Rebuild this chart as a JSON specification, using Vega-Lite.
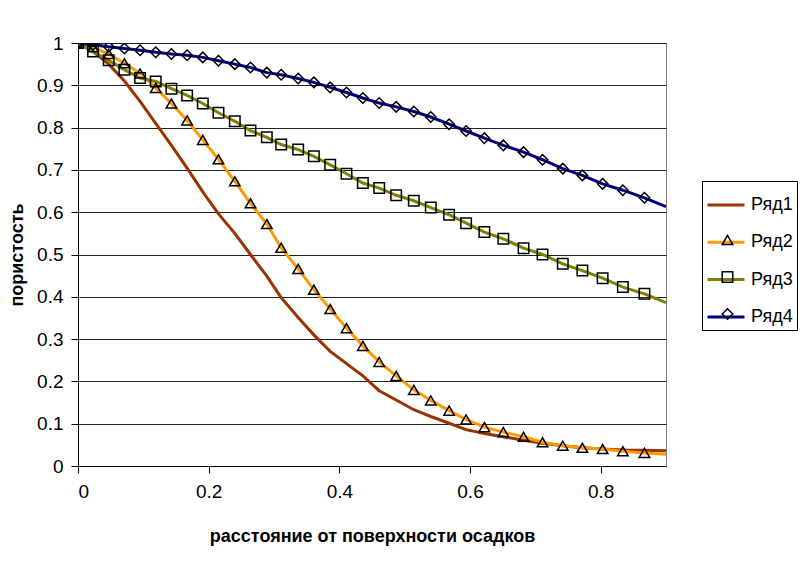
{
  "$schema": "https://vega.github.io/schema/vega-lite/v6.json",
  "autosize": "none",
  "width": 588,
  "height": 423,
  "padding": {"left": 78, "top": 43, "right": 141, "bottom": 106},
  "background": "white",
  "config": {
    "font": "Liberation Sans",
    "view": {"stroke": "#808080", "strokeWidth": 1}
  },
  "datasets": {
    "pts": [
      {"s":"Ряд1","x":0,"v":1.0},{"s":"Ряд1","x":0.023,"v":0.98},{"s":"Ряд1","x":0.047,"v":0.95},{"s":"Ряд1","x":0.071,"v":0.91},{"s":"Ряд1","x":0.095,"v":0.862},{"s":"Ряд1","x":0.119,"v":0.81},{"s":"Ряд1","x":0.143,"v":0.758},{"s":"Ряд1","x":0.167,"v":0.704},{"s":"Ряд1","x":0.191,"v":0.648},{"s":"Ряд1","x":0.215,"v":0.596},{"s":"Ряд1","x":0.24,"v":0.55},{"s":"Ряд1","x":0.264,"v":0.5},{"s":"Ряд1","x":0.289,"v":0.449},{"s":"Ряд1","x":0.311,"v":0.398},{"s":"Ряд1","x":0.337,"v":0.351},{"s":"Ряд1","x":0.361,"v":0.31},{"s":"Ряд1","x":0.386,"v":0.271},{"s":"Ряд1","x":0.411,"v":0.242},{"s":"Ряд1","x":0.436,"v":0.213},{"s":"Ряд1","x":0.461,"v":0.178},{"s":"Ряд1","x":0.487,"v":0.156},{"s":"Ряд1","x":0.514,"v":0.133},{"s":"Ряд1","x":0.54,"v":0.117},{"s":"Ряд1","x":0.568,"v":0.101},{"s":"Ряд1","x":0.594,"v":0.086},{"s":"Ряд1","x":0.622,"v":0.077},{"s":"Ряд1","x":0.651,"v":0.069},{"s":"Ряд1","x":0.682,"v":0.061},{"s":"Ряд1","x":0.711,"v":0.054},{"s":"Ряд1","x":0.742,"v":0.048},{"s":"Ряд1","x":0.772,"v":0.043},{"s":"Ряд1","x":0.803,"v":0.04},{"s":"Ряд1","x":0.834,"v":0.038},{"s":"Ряд1","x":0.867,"v":0.037},{"s":"Ряд1","x":0.9,"v":0.036},
      {"s":"Ряд2","x":0,"v":1.0},{"s":"Ряд2","x":0.023,"v":0.99},{"s":"Ряд2","x":0.047,"v":0.974},{"s":"Ряд2","x":0.071,"v":0.952},{"s":"Ряд2","x":0.095,"v":0.928},{"s":"Ряд2","x":0.119,"v":0.894},{"s":"Ряд2","x":0.143,"v":0.857},{"s":"Ряд2","x":0.167,"v":0.817},{"s":"Ряд2","x":0.191,"v":0.771},{"s":"Ряд2","x":0.215,"v":0.725},{"s":"Ряд2","x":0.24,"v":0.673},{"s":"Ряд2","x":0.264,"v":0.621},{"s":"Ряд2","x":0.289,"v":0.572},{"s":"Ряд2","x":0.311,"v":0.516},{"s":"Ряд2","x":0.337,"v":0.466},{"s":"Ряд2","x":0.361,"v":0.417},{"s":"Ряд2","x":0.386,"v":0.371},{"s":"Ряд2","x":0.411,"v":0.326},{"s":"Ряд2","x":0.436,"v":0.284},{"s":"Ряд2","x":0.461,"v":0.246},{"s":"Ряд2","x":0.487,"v":0.213},{"s":"Ряд2","x":0.514,"v":0.18},{"s":"Ряд2","x":0.54,"v":0.155},{"s":"Ряд2","x":0.568,"v":0.131},{"s":"Ряд2","x":0.594,"v":0.11},{"s":"Ряд2","x":0.622,"v":0.092},{"s":"Ряд2","x":0.651,"v":0.08},{"s":"Ряд2","x":0.682,"v":0.069},{"s":"Ряд2","x":0.711,"v":0.056},{"s":"Ряд2","x":0.742,"v":0.048},{"s":"Ряд2","x":0.772,"v":0.043},{"s":"Ряд2","x":0.803,"v":0.04},{"s":"Ряд2","x":0.834,"v":0.035},{"s":"Ряд2","x":0.867,"v":0.031},{"s":"Ряд2","x":0.9,"v":0.028},
      {"s":"Ряд3","x":0,"v":1.0},{"s":"Ряд3","x":0.023,"v":0.98},{"s":"Ряд3","x":0.047,"v":0.959},{"s":"Ряд3","x":0.071,"v":0.937},{"s":"Ряд3","x":0.095,"v":0.917},{"s":"Ряд3","x":0.119,"v":0.909},{"s":"Ряд3","x":0.143,"v":0.892},{"s":"Ряд3","x":0.167,"v":0.876},{"s":"Ряд3","x":0.191,"v":0.857},{"s":"Ряд3","x":0.215,"v":0.835},{"s":"Ряд3","x":0.24,"v":0.815},{"s":"Ряд3","x":0.264,"v":0.793},{"s":"Ряд3","x":0.289,"v":0.777},{"s":"Ряд3","x":0.311,"v":0.76},{"s":"Ряд3","x":0.337,"v":0.748},{"s":"Ряд3","x":0.361,"v":0.732},{"s":"Ряд3","x":0.386,"v":0.712},{"s":"Ряд3","x":0.411,"v":0.691},{"s":"Ряд3","x":0.436,"v":0.669},{"s":"Ряд3","x":0.461,"v":0.657},{"s":"Ряд3","x":0.487,"v":0.64},{"s":"Ряд3","x":0.514,"v":0.627},{"s":"Ряд3","x":0.54,"v":0.611},{"s":"Ряд3","x":0.568,"v":0.594},{"s":"Ряд3","x":0.594,"v":0.574},{"s":"Ряд3","x":0.622,"v":0.553},{"s":"Ряд3","x":0.651,"v":0.537},{"s":"Ряд3","x":0.682,"v":0.515},{"s":"Ряд3","x":0.711,"v":0.5},{"s":"Ряд3","x":0.742,"v":0.478},{"s":"Ряд3","x":0.772,"v":0.462},{"s":"Ряд3","x":0.803,"v":0.444},{"s":"Ряд3","x":0.834,"v":0.423},{"s":"Ряд3","x":0.867,"v":0.407},{"s":"Ряд3","x":0.9,"v":0.386},
      {"s":"Ряд4","x":0,"v":1.0},{"s":"Ряд4","x":0.023,"v":0.996},{"s":"Ряд4","x":0.047,"v":0.991},{"s":"Ряд4","x":0.071,"v":0.987},{"s":"Ряд4","x":0.095,"v":0.983},{"s":"Ряд4","x":0.119,"v":0.978},{"s":"Ряд4","x":0.143,"v":0.974},{"s":"Ряд4","x":0.167,"v":0.971},{"s":"Ряд4","x":0.191,"v":0.966},{"s":"Ряд4","x":0.215,"v":0.958},{"s":"Ряд4","x":0.24,"v":0.95},{"s":"Ряд4","x":0.264,"v":0.942},{"s":"Ряд4","x":0.289,"v":0.93},{"s":"Ряд4","x":0.311,"v":0.925},{"s":"Ряд4","x":0.337,"v":0.916},{"s":"Ряд4","x":0.361,"v":0.907},{"s":"Ряд4","x":0.386,"v":0.895},{"s":"Ряд4","x":0.411,"v":0.883},{"s":"Ряд4","x":0.436,"v":0.87},{"s":"Ряд4","x":0.461,"v":0.858},{"s":"Ряд4","x":0.487,"v":0.849},{"s":"Ряд4","x":0.514,"v":0.838},{"s":"Ряд4","x":0.54,"v":0.825},{"s":"Ряд4","x":0.568,"v":0.808},{"s":"Ряд4","x":0.594,"v":0.792},{"s":"Ряд4","x":0.622,"v":0.775},{"s":"Ряд4","x":0.651,"v":0.758},{"s":"Ряд4","x":0.682,"v":0.742},{"s":"Ряд4","x":0.711,"v":0.724},{"s":"Ряд4","x":0.742,"v":0.703},{"s":"Ряд4","x":0.772,"v":0.687},{"s":"Ряд4","x":0.803,"v":0.667},{"s":"Ряд4","x":0.834,"v":0.652},{"s":"Ряд4","x":0.867,"v":0.634},{"s":"Ряд4","x":0.9,"v":0.613}
    ]
  },
  "data": {"name": "pts"},
  "encoding": {
    "x": {
      "field": "x", "type": "quantitative",
      "scale": {"domain": [0, 0.9], "nice": false, "zero": true},
      "axis": {
        "values": [0, 0.2, 0.4, 0.6, 0.8], "format": "~g",
        "grid": false,
        "domainColor": "black", "tickColor": "black", "tickSize": 7,
        "labelFontSize": 19, "labelColor": "black", "labelPadding": 9,
        "title": "расстояние от поверхности осадков",
        "titleFontSize": 18, "titleFontWeight": "bold", "titleColor": "black", "titlePadding": 26
      }
    },
    "y": {
      "field": "v", "type": "quantitative",
      "scale": {"domain": [0, 1], "nice": false},
      "axis": {
        "values": [0, 0.1, 0.2, 0.3, 0.4, 0.5, 0.6, 0.7, 0.8, 0.9, 1], "format": "~g",
        "grid": true, "gridColor": "#222222", "gridWidth": 1,
        "domainColor": "black", "tickColor": "black", "tickSize": 7,
        "labelFontSize": 19, "labelColor": "black", "labelPadding": 8,
        "title": "пористость",
        "titleFontSize": 18, "titleFontWeight": "bold", "titleColor": "black", "titlePadding": 10
      }
    }
  },
  "layer": [
    {
      "mark": {"type": "line", "strokeWidth": 3, "clip": true},
      "encoding": {
        "color": {
          "field": "s", "type": "nominal",
          "scale": {"range": ["#993300", "#FF9900", "#808000", "#000080"]},
          "legend": {
            "orient": "none", "legendX": 624, "legendY": 138,
            "title": null,
            "symbolType": "stroke", "symbolSize": 1369, "symbolStrokeWidth": 3,
            "labelFontSize": 18, "labelColor": "black", "labelOffset": 5, "labelLimit": 200,
            "rowPadding": 8.3, "padding": 4,
            "strokeColor": "black", "fillColor": "white"
          }
        }
      }
    },
    {
      "transform": [{"filter": "datum.x < 0.89 && datum.s != 'Ряд1'"}],
      "mark": {"type": "point", "filled": false, "stroke": "black", "strokeWidth": 1.5, "size": 110, "opacity": 1, "clip": true},
      "encoding": {
        "shape": {
          "field": "s", "type": "nominal",
          "scale": {"domain": ["Ряд1", "Ряд2", "Ряд3", "Ряд4"], "range": ["M0,0", "triangle-up", "square", "diamond"]},
          "legend": {
            "orient": "none", "legendX": 640.5, "legendY": 151,
            "title": null,
            "symbolSize": 110, "symbolStrokeColor": "black", "symbolFillColor": "transparent", "symbolStrokeWidth": 1.5,
            "labelExpr": "''", "labelFontSize": 18, "labelOffset": 0,
            "rowPadding": 19, "padding": 0
          }
        }
      }
    }
  ]
}
